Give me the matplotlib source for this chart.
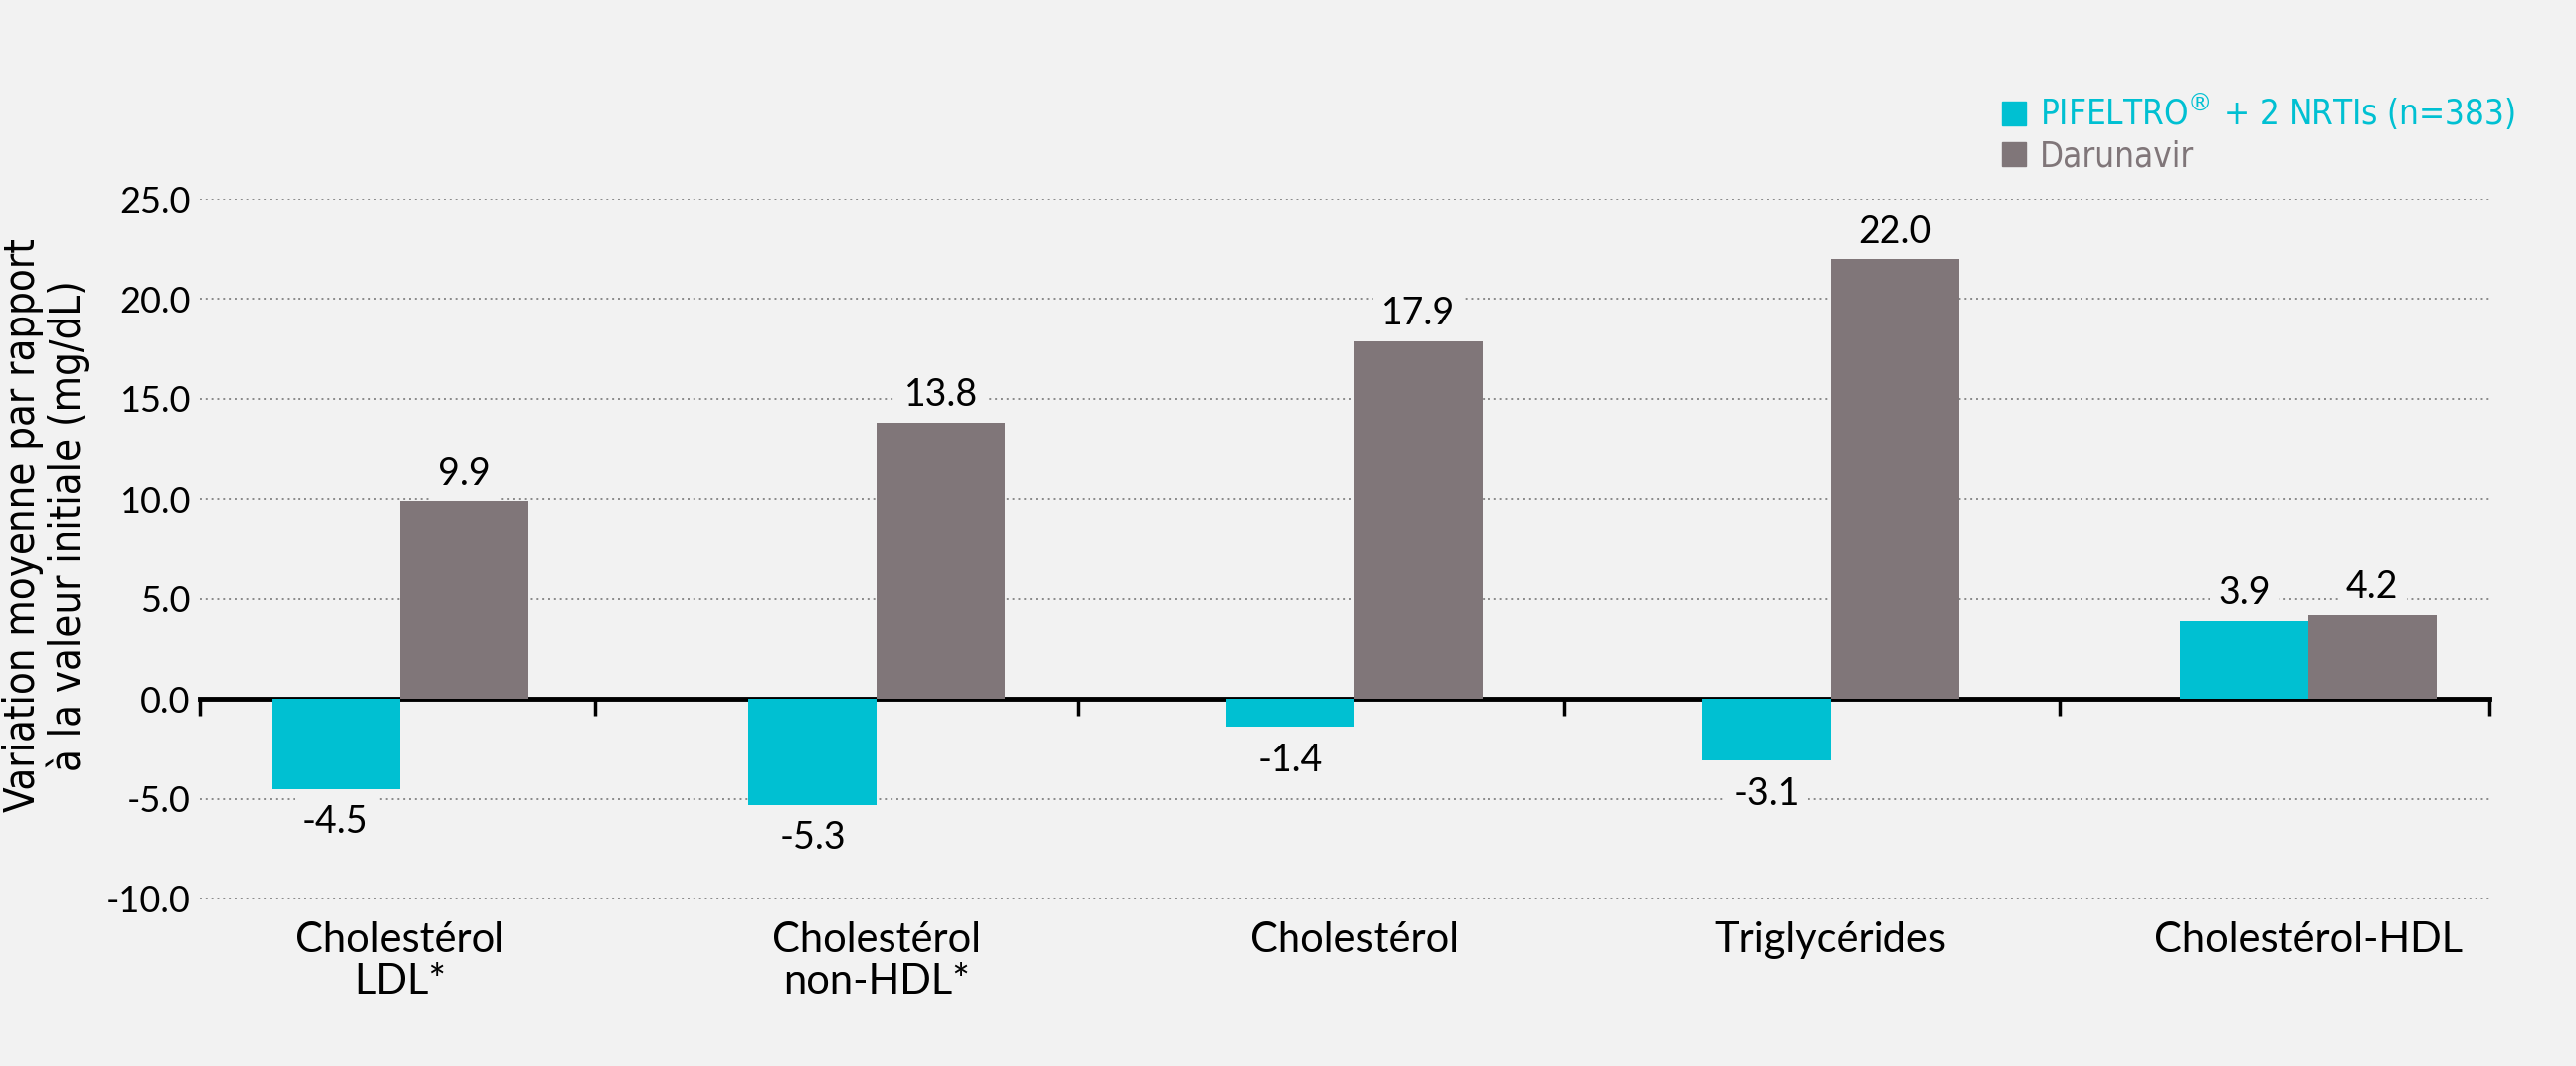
import matplotlib as mpl
mpl.use('Agg')
import matplotlib.pyplot as plt
from matplotlib.patches import Patch
import numpy as np

categories = ["Cholestérol\nLDL*", "Cholestérol\nnon-HDL*", "Cholestérol", "Triglycérides", "Cholestérol-HDL"]
pifeltro = [-4.5, -5.3, -1.4, -3.1, 3.9]
darunavir = [9.9, 13.8, 17.9, 22.0, 4.2]
series_names = [r"PIFELTRO$^{\circledR}$ + 2 NRTIs (n=383)", "Darunavir"]
yticks = [-10, -5, 0, 5, 10, 15, 20, 25]

bg = '#f2f2f2'
cyan = '#00c0d2'
grey = '#807679'
W, H = 2589, 1071

fig = plt.figure(figsize=(W / 100, H / 100), dpi=100, facecolor=bg)
ax = fig.add_axes([201 / W, 168 / H, 2301 / W, 703 / H], facecolor=bg)

x = np.arange(len(categories))
w = 0.269
b1 = ax.bar(x - w / 2, pifeltro, w, color=cyan, zorder=3)
b2 = ax.bar(x + w / 2, darunavir, w, color=grey, zorder=3)

ax.set_xlim(-0.419, 4.38)
ax.set_ylim(-10, 25)

ax.set_yticks(yticks)
ax.set_yticklabels(['{:.1f}'.format(v) for v in yticks], fontsize=26, family='Lato')
ax.yaxis.grid(True, linestyle=(0, (1, 2)), color='#8a8a8a', lw=1.4, zorder=0)
ax.tick_params(axis='y', length=0, pad=7)
# no dotted line under the zero axis
for t, gl in zip(yticks, ax.yaxis.get_gridlines()):
    if t == 0:
        gl.set_visible(False)

ax.set_xticks(x)
ax.set_xticklabels(categories, fontsize=30, family='Lato', linespacing=1.15)
ax.tick_params(axis='x', length=0, pad=16)
for s in ax.spines.values():
    s.set_visible(False)

# value labels
for bars, vals in ((b1, pifeltro), (b2, darunavir)):
    for r, v in zip(bars, vals):
        cx = r.get_x() + r.get_width() / 2
        if v >= 0:
            ax.annotate('{:.1f}'.format(v), (cx, v), xytext=(0, 7), textcoords='offset points',
                        ha='center', va='bottom', fontsize=27, family='Lato', zorder=4,
                        bbox=dict(facecolor=bg, edgecolor='none', pad=6))
        else:
            ax.annotate('{:.1f}'.format(v), (cx, v), xytext=(0, -11), textcoords='offset points',
                        ha='center', va='top', fontsize=27, family='Lato', zorder=4,
                        bbox=dict(facecolor=bg, edgecolor='none', pad=6))

# zero line with separator ticks
ylo, yhi = ax.get_ylim()
sec = ax.secondary_xaxis((0 - ylo) / (yhi - ylo))
sec.set_xticks([-0.419, 0.41, 1.42, 2.44, 3.48, 4.38])
sec.set_xticklabels([])
sec.minorticks_off()
sec.tick_params(which='minor', length=0)
sec.tick_params(which='major', direction='out', length=12, width=2.5, color='black')
sec.spines['bottom'].set_linewidth(3.5)
sec.spines['bottom'].set_color('black')

fig.text(46 / W, (H - 528) / H, "Variation moyenne par rapport\nà la valeur initiale (mg/dL)",
         rotation=90, ha='center', va='center', multialignment='center',
         fontsize=30, family='DejaVu Sans', fontstretch='condensed', linespacing=1.1)

handles = [Patch(color=cyan), Patch(color=grey)]
leg = fig.legend(handles, series_names, loc='upper left', bbox_to_anchor=(2012 / W, (H - 92) / H),
                 frameon=False, borderpad=0, borderaxespad=0, handlelength=0.7, handleheight=0.7,
                 handletextpad=0.4, labelspacing=0.2,
                 prop={'family': 'DejaVu Sans', 'stretch': 'condensed', 'size': 25})
for t, c in zip(leg.get_texts(), [cyan, grey]):
    t.set_color(c)

fig.savefig('out.png', dpi=100, facecolor=bg)
